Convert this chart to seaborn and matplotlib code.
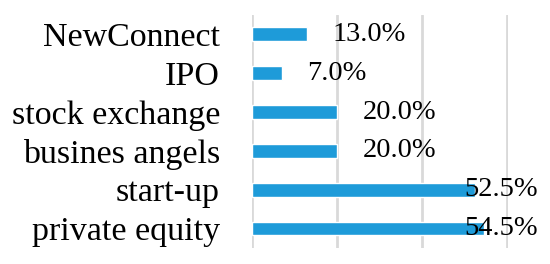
import matplotlib
matplotlib.use("Agg")
import matplotlib.pyplot as plt
import seaborn as sns
import pandas as pd

categories = ["NewConnect", "IPO", "stock exchange", "busines angels", "start-up", "private equity"]
values = [13.0, 7.0, 20.0, 20.0, 52.5, 54.5]
labels = ["13.0%", "7.0%", "20.0%", "20.0%", "52.5%", "54.5%"]

df = pd.DataFrame({"category": categories, "value": values})

sns.set_style("white")
plt.rcParams["font.family"] = ["Liberation Serif", "DejaVu Serif"]
plt.rcParams["text.color"] = "black"
plt.rcParams["ytick.color"] = "black"

fig = plt.figure(figsize=(5.5, 2.64), dpi=100)
ax = fig.add_axes([0.458, 0.061, 0.466, 0.882])

sns.barplot(data=df, x="value", y="category", orient="h", color="#1E9BD9",
            saturation=1, width=0.36, ax=ax)

ax.set_xlim(0, 60.3)
ax.set_xticks([0, 20, 40, 60])
ax.xaxis.grid(True, color="#D9D9D9", linewidth=2)
ax.set_axisbelow(True)
ax.set_xticklabels([])
ax.tick_params(axis="x", length=0)
ax.tick_params(axis="y", length=0, labelsize=24.5, pad=23, labelcolor="black")
ax.set_xlabel("")
ax.set_ylabel("")
for s in ax.spines.values():
    s.set_visible(False)

# data labels: outside end, pushed left when there is no room
for i, (v, lab) in enumerate(zip(values, labels)):
    ax.text(min(v + 6, 50), i, lab, ha="left", va="center", fontsize=20.5,
            color="black", clip_on=False)

fig.savefig("out.png", dpi=100)
